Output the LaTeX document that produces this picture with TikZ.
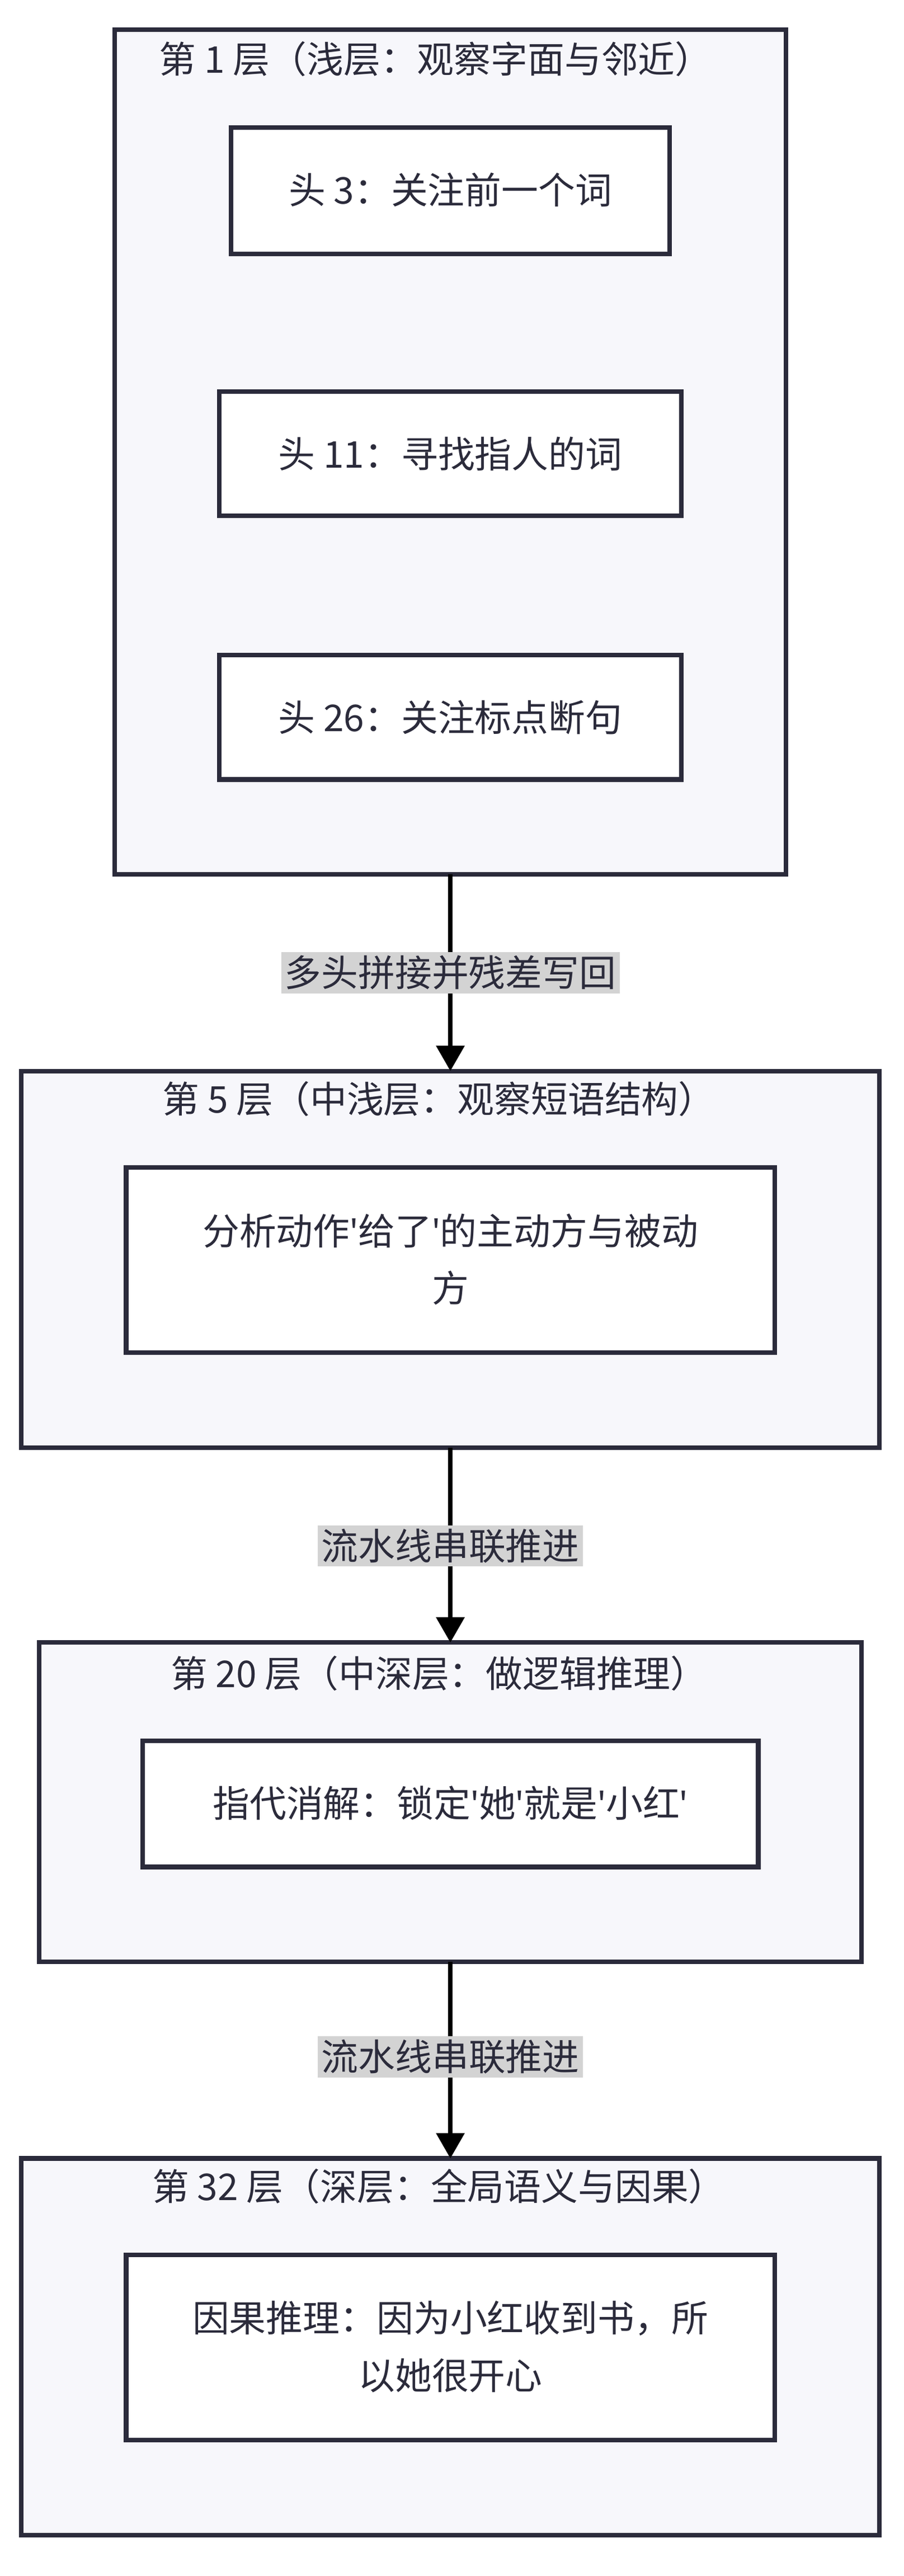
\documentclass[tikz,border=0pt]{standalone}
\usepackage{fontspec}
\setmainfont{Noto Sans CJK SC}
\newfontfamily\latn{Noto Sans}
\usetikzlibrary{arrows.meta}
\definecolor{edge}{HTML}{2B2B3B}
\definecolor{panel}{HTML}{F7F7FB}
\definecolor{tag}{HTML}{D3D3D3}
\newcommand{\q}{{\latn\char"27}}
\begin{document}
\begin{tikzpicture}[x=0.5mm,y=-0.5mm,
  layer/.style={draw=edge,line width=4pt,fill=panel},
  head/.style={draw=edge,line width=4pt,fill=white},
  ttl/.style={font=\fontsize{32}{38}\selectfont,text=edge},
  txt/.style={font=\fontsize{32}{50}\selectfont,text=edge,align=center},
  link/.style={draw=black,line width=4pt,-{Triangle[length=22pt,width=24pt]}},
  tagl/.style={fill=tag,text=edge,font=\fontsize{32}{38}\selectfont,inner sep=3pt}]
\useasboundingbox (0,0) rectangle (552,1573);

% layer 1
\draw[layer] (70,18) rectangle (480,534);
\node[ttl] (t1) at (266,36) {第 1 层（浅层：观察字面与邻近）};
\draw[head] (141,78) rectangle (409,155);
\node[txt] (h3) at (275,116) {头 3：关注前一个词};
\draw[head] (134,239) rectangle (416,315);
\node[txt] (h11) at (275,277) {头 11：寻找指人的词};
\draw[head] (134,400) rectangle (416,476);
\node[txt] (h26) at (275,438) {头 26：关注标点断句};
\coordinate (b1) at (275,534);

% layer 5
\draw[layer] (13,654) rectangle (537,884);
\node[ttl] (t5) at (268,671) {第 5 层（中浅层：观察短语结构）};
\draw[head] (77,713) rectangle (473,826);
\node[txt] (p5) at (275,769) {分析动作\q 给了\q 的主动方与被动\\方};
\coordinate (a5) at (275,654);
\coordinate (b5) at (275,884);

% layer 20
\draw[layer] (24,1003) rectangle (526,1198);
\node[ttl] (t20) at (268,1022) {第 20 层（中深层：做逻辑推理）};
\draw[head] (87,1063) rectangle (463,1140);
\node[txt] (p20) at (275,1101) {指代消解：锁定\q 她\q 就是\q 小红\q};
\coordinate (a20) at (275,1003);
\coordinate (b20) at (275,1198);

% layer 32
\draw[layer] (13,1318) rectangle (537,1548);
\node[ttl] (t32) at (268,1335) {第 32 层（深层：全局语义与因果）};
\draw[head] (77,1377) rectangle (473,1490);
\node[txt] (p32) at (275,1433) {因果推理：因为小红收到书，所\\以她很开心};
\coordinate (a32) at (275,1318);

% links
\draw[link] (b1) -- (a5);
\draw[link] (b5) -- (a20);
\draw[link] (b20) -- (a32);
\node[tagl] (l1) at (275,594) {多头拼接并残差写回};
\node[tagl] (l2) at (275,944) {流水线串联推进};
\node[tagl] (l3) at (275,1256) {流水线串联推进};
\end{tikzpicture}
\end{document}
